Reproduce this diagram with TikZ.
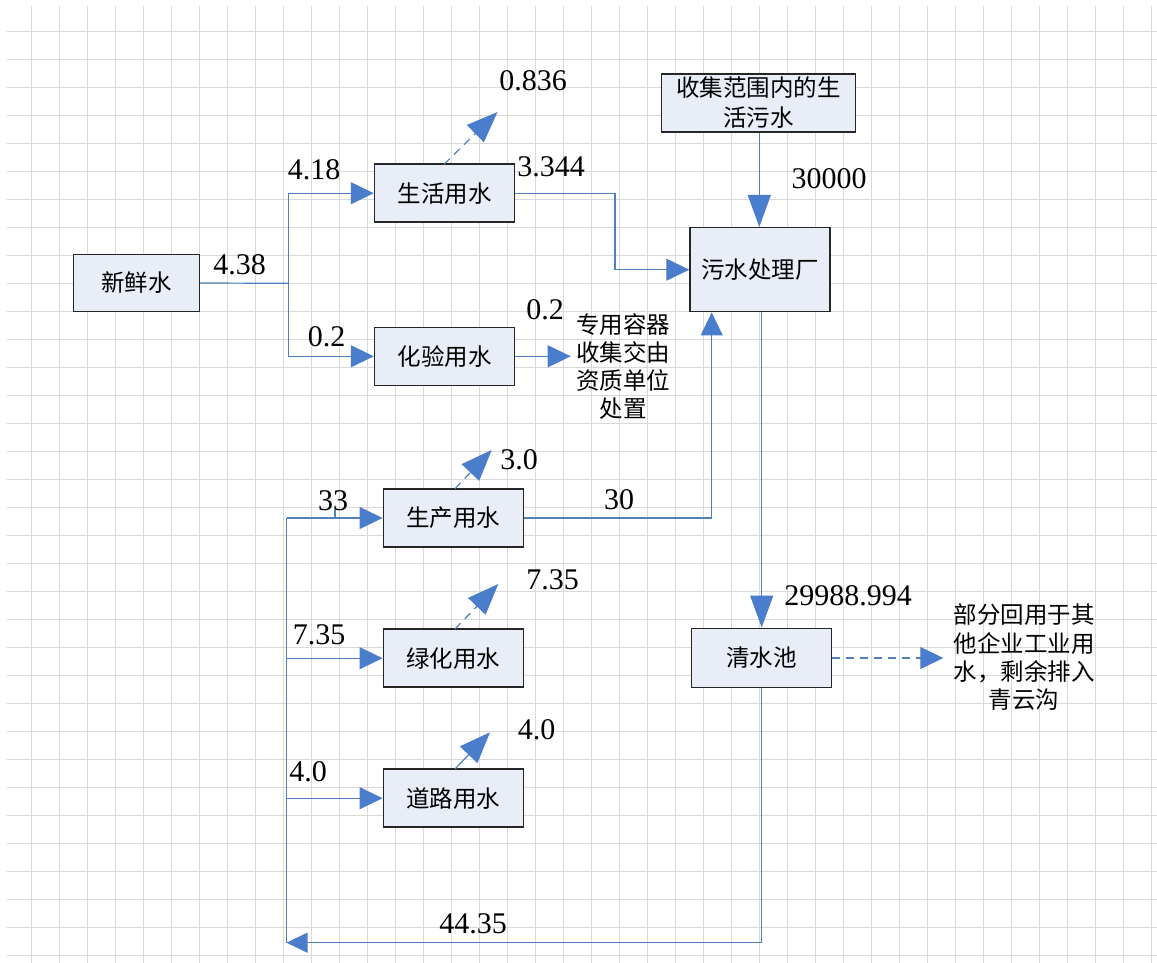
\documentclass[tikz,border=0pt]{standalone}
\usepackage{fontspec}
\setmainfont{Liberation Serif}
\newfontfamily\cjk{Noto Sans CJK SC}
\usetikzlibrary{arrows.meta}
\definecolor{lineblue}{HTML}{4F81BD}
\definecolor{tipblue}{HTML}{4A7DCB}
\definecolor{boxfill}{HTML}{E8EDF7}
\definecolor{gridgray}{HTML}{D9D9D9}
\definecolor{boxedge}{HTML}{262626}
\tikzset{
  box/.style={draw=boxedge, line width=0.75pt, fill=boxfill, inner sep=0pt,
    minimum width=70pt, minimum height=29pt,
    font=\cjk\fontsize{11.75}{15}\selectfont, align=center},
  num/.style={font=\fontsize{15}{18}\selectfont, inner sep=0pt},
  note/.style={font=\cjk\fontsize{11.75}{14}\selectfont, align=center, inner sep=0pt},
  conn/.style={draw=lineblue, line width=0.6pt},
  harr/.style={conn, -{Triangle[length=11.5pt,width=11pt,color=tipblue]}},
  varr/.style={conn, -{Triangle[length=16pt,width=11.5pt,color=tipblue]}},
  uarr/.style={conn, -{Triangle[length=11.5pt,width=11pt,color=tipblue]}},
  darr/.style={conn, -{Triangle[length=15.5pt,width=12pt,color=tipblue]}},
  dashline/.style={dash pattern=on 4pt off 3pt},
}
\begin{document}
\begin{tikzpicture}[x=0.5pt,y=-0.5pt]
\useasboundingbox (0,0) rectangle (1157,963);
\fill[white] (0,0) rectangle (1157,963);
% grid
\foreach \i in {0,...,40} {
  \draw[gridgray, line width=0.5pt] ({31.7+28*\i},6) -- ({31.7+28*\i},963);
}
\foreach \j in {0,...,33} {
  \draw[gridgray, line width=0.5pt] (7,{31.7+28*\j}) -- (1157,{31.7+28*\j});
}

% boxes
\node[box, minimum width=62.85pt, minimum height=28.7pt] (xxs) at (136.5,283) {新鲜水};
\node[box] (shyy) at (444.5,193.2) {生活用水};
\node[box] (hyyy) at (444.5,356.3) {化验用水};
\node[box, minimum width=97pt, minimum height=29pt] (sj) at (758.7,102.9) {收集范围内的生\\活污水};
\node[box, minimum height=42pt] (wsc) at (760,269.7) {污水处理厂};
\node[box] (scyy) at (453.3,518) {生产用水};
\node[box] (lhyy) at (453.3,658.2) {绿化用水};
\node[box] (dlyy) at (453.3,798.2) {道路用水};
\node[box, minimum height=29.7pt] (qsc) at (761.7,658) {清水池};

% notes
\node[note] (zyrq) at (623,366.5) {专用容器\\收集交由\\资质单位\\处置};
\node[note, font=\cjk\fontsize{11.75}{14.15}\selectfont] (bfhy) at (1024,657.5) {部分回用于其\\他企业工业用\\水，剩余排入\\青云沟};

% coordinates
\coordinate (J) at (288.6,283.3);
\coordinate (hyend) at (570.7,356.3);
\coordinate (sh1) at (444,164.3);
\coordinate (sh2) at (497.5,112);
\coordinate (c1) at (615,193.2);
\coordinate (c2) at (711.7,518);
\coordinate (qend) at (943.3,658);
\coordinate (b0) at (286.5,942.7);
\coordinate (b1) at (286.5,518);
\coordinate (br) at (761.7,942.7);
\coordinate (sc1) at (455,488.7);
\coordinate (sc2) at (491.7,450);
\coordinate (lh1) at (455,629);
\coordinate (lh2) at (498.3,584);
\coordinate (dl1) at (455,769);
\coordinate (dl2) at (490,732.3);
\coordinate (t1) at (335,510);
\coordinate (t2) at (335,518);

% connectors
\draw[conn] (xxs.east) -- (J);
\draw[harr] (J) |- (shyy.west);
\draw[harr] (J) |- (hyyy.west);
\draw[harr] (hyyy.east) -- (hyend);
\draw[darr, dashline] (sh1) -- (sh2);
\draw[harr] (shyy.east) -- (c1) |- (wsc.west);
\draw[varr] (sj.south -| 759.3,0) -- (wsc.north -| 759.3,0);
\draw[uarr] (scyy.east) -- (c2) -- (c2 |- wsc.south);
\draw[varr] (wsc.south -| qsc.north) -- (qsc.north);
\draw[harr, dashline] (qsc.east) -- (qend);
\draw[conn] (qsc.south) -- (br);
\draw[conn, -{Triangle[length=10.5pt,width=10pt,color=tipblue]}] (br) -- (b0);
\draw[conn] (b0) -- (b1);
\draw[harr] (b1) -- (scyy.west);
\draw[harr] (b0 |- lhyy.west) -- (lhyy.west);
\draw[harr] (b0 |- dlyy.west) -- (dlyy.west);
\draw[darr, dashline] (sc1) -- (sc2);
\draw[darr, dashline] (lh1) -- (lh2);
\draw[darr] (dl1) -- (dl2);
\draw[conn] (t1) -- (t2);

% labels
\node[num] (l438) at (239.5,265) {4.38};
\node[num] (l418) at (314,170) {4.18};
\node[num] (l02a) at (326.6,337) {0.2};
\node[num] (l02b) at (545,310) {0.2};
\node[num] (l0836) at (533,81) {0.836};
\node[num] (l3344) at (551,167) {3.344};
\node[num] (l30000) at (829,179) {30000};
\node[num] (l33) at (333,501) {33};
\node[num] (l30a) at (519,460) {3.0};
\node[num] (l30) at (619,500) {30};
\node[num] (l735a) at (319,635) {7.35};
\node[num] (l735b) at (552.5,580) {7.35};
\node[num] (l40a) at (308,772) {4.0};
\node[num] (l40b) at (536.7,730) {4.0};
\node[num] (l2998) at (848,596) {29988.994};
\node[num] (l4435) at (473,924) {44.35};
\end{tikzpicture}
\end{document}
